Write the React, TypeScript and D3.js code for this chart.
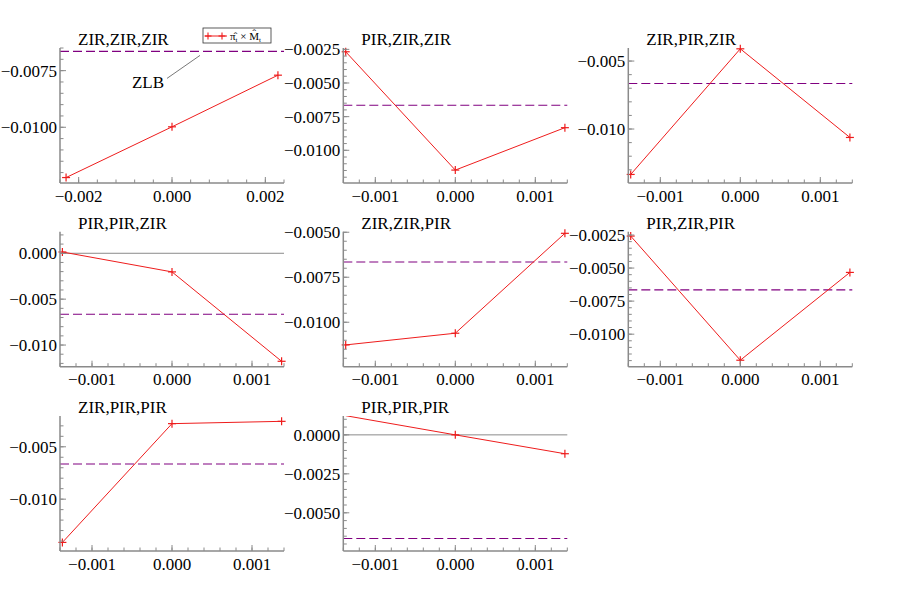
import React from "react";
import * as d3 from "d3";

// ---- data ----
const titles = [
  "ZIR,ZIR,ZIR",
  "PIR,ZIR,ZIR",
  "ZIR,PIR,ZIR",
  "PIR,PIR,ZIR",
  "ZIR,ZIR,PIR",
  "PIR,ZIR,PIR",
  "ZIR,PIR,PIR",
  "PIR,PIR,PIR",
];
const shockWide = [-0.00227, 0, 0.00227];
const shockNarrow = [-0.00137, 0, 0.00137];
const responses = [
  [-0.01222, -0.00998, -0.0077],
  [-0.00268, -0.01147, -0.00832],
  [-0.01334, -0.0041, -0.01062],
  [0.00014, -0.00203, -0.01177],
  [-0.01126, -0.01061, -0.00506],
  [-0.00258, -0.01197, -0.00533],
  [-0.01413, -0.00279, -0.00257],
  [0.00123, 0.0, -0.00121],
];
const yDomains = [
  [-0.01246, -0.0065],
  [-0.01243, -0.0024],
  [-0.01397, -0.00404],
  [-0.01236, 0.00235],
  [-0.01247, -0.00497],
  [-0.01246, -0.00225],
  [-0.01495, -0.00206],
  [-0.00745, 0.00121],
];
const yTickSteps = [0.0025, 0.0025, 0.005, 0.005, 0.0025, 0.0025, 0.005, 0.0025];
const yTickDecimals = [4, 4, 3, 3, 4, 4, 3, 4];
const xDomainWide = [-0.0024, 0.0024];
const xDomainNarrow = [-0.0014, 0.0014];
const xTickStepWide = 0.002;
const xTickStepNarrow = 0.001;
const ZLB = -0.00665;
const zlbLabel = "ZLB";
const zlbAnchorX = 0.0006;

// ---- layout / style ----
const colX = [60, 343.3, 628.3];
const rowY = [48, 231.7, 416];
const plotW = 224;
const plotH = 135;
const FONT = "Liberation Serif, Tinos, serif";
const FS = 17;
const AXIS = "#8a8a8a";
const RED = "#ee1c1c";
const PURPLE = "#800080";

function ticksFor(dom: number[], step: number) {
  const lo = Math.min(dom[0], dom[1]);
  const hi = Math.max(dom[0], dom[1]);
  const a = Math.ceil(lo / step - 1e-6);
  const b = Math.floor(hi / step + 1e-6);
  return d3.range(a, b + 1).map((k) => k * step);
}

function Panel({ i }: { i: number }) {
  const col = i % 3;
  const row = Math.floor(i / 3);
  const x0 = colX[col];
  const y0 = rowY[row];
  const wide = i === 0;
  const xs = wide ? shockWide : shockNarrow;
  const xDom = wide ? xDomainWide : xDomainNarrow;
  const xStep = wide ? xTickStepWide : xTickStepNarrow;
  const x = d3.scaleLinear().domain(xDom).range([x0, x0 + plotW]);
  const yDom = yDomains[i];
  const y = d3.scaleLinear().domain(yDom).range([y0 + plotH, y0]);
  const ys = responses[i];
  const pts = xs.map((v, k) => [v, ys[k]] as [number, number]);
  const line = d3
    .line<[number, number]>()
    .x((d) => x(d[0]))
    .y((d) => y(d[1]));
  const yStep = yTickSteps[i];
  const yMaj = ticksFor(yDom, yStep);
  const yMin = ticksFor(yDom, yStep / 5);
  const xMaj = ticksFor(xDom, xStep);
  const xMin = ticksFor(xDom, xStep / 5);
  const yFmt = d3.format(`.${yTickDecimals[i]}f`);
  const xFmt = d3.format(".3f");
  const clipId = `clip${i}`;
  const inside = (d: [number, number]) =>
    d[1] >= yDom[0] - 1e-9 && d[1] <= yDom[1] + 1e-9;
  const hasZero = yDom[0] < 0 && yDom[1] > 0;
  const bottom = y0 + plotH;

  return (
    <g>
      <defs>
        <clipPath id={clipId}>
          <rect x={x0} y={y0} width={plotW} height={plotH} />
        </clipPath>
      </defs>
      <text x={x0 + 18} y={y0 - 3} fontSize={FS} style={{ fontFamily: FONT }} fill="#000">
        {titles[i]}
      </text>
      {hasZero && (
        <line x1={x0} x2={x0 + plotW} y1={y(0)} y2={y(0)} stroke={AXIS} strokeWidth={1} />
      )}
      <line
        x1={x0}
        x2={x0 + plotW}
        y1={y(ZLB)}
        y2={y(ZLB)}
        stroke={PURPLE}
        strokeWidth={1.1}
        strokeDasharray="9,4"
      />
      <path d={line(pts) || ""} fill="none" stroke={RED} strokeWidth={1} clipPath={`url(#${clipId})`} />
      {pts.filter(inside).map((d, k) => (
        <g key={k} stroke={RED} strokeWidth={1.2}>
          <line x1={x(d[0]) - 4} x2={x(d[0]) + 4} y1={y(d[1])} y2={y(d[1])} />
          <line x1={x(d[0])} x2={x(d[0])} y1={y(d[1]) - 4} y2={y(d[1]) + 4} />
        </g>
      ))}
      <line x1={x0} x2={x0} y1={y0} y2={bottom} stroke={AXIS} strokeWidth={1.5} />
      <line x1={x0} x2={x0 + plotW} y1={bottom} y2={bottom} stroke={AXIS} strokeWidth={1.5} />
      {yMin.map((t, k) => (
        <line key={"ym" + k} x1={x0} x2={x0 + 3.5} y1={y(t)} y2={y(t)} stroke={AXIS} strokeWidth={1} />
      ))}
      {yMaj.map((t, k) => (
        <g key={"yM" + k}>
          <line x1={x0} x2={x0 + 6} y1={y(t)} y2={y(t)} stroke={AXIS} strokeWidth={1} />
          <text
            x={x0 - 3}
            y={y(t)}
            dy="0.35em"
            textAnchor="end"
            fontSize={FS}
            style={{ fontFamily: FONT }}
            fill="#000"
          >
            {yFmt(Math.abs(t) < 1e-12 ? 0 : t)}
          </text>
        </g>
      ))}
      {xMin.map((t, k) => (
        <line key={"xm" + k} x1={x(t)} x2={x(t)} y1={bottom} y2={bottom - 3.5} stroke={AXIS} strokeWidth={1} />
      ))}
      {xMaj.map((t, k) => (
        <g key={"xM" + k}>
          <line x1={x(t)} x2={x(t)} y1={bottom} y2={bottom - 6} stroke={AXIS} strokeWidth={1} />
          <text
            x={x(t)}
            y={bottom + 18.5}
            textAnchor="middle"
            fontSize={FS}
            style={{ fontFamily: FONT }}
            fill="#000"
          >
            {xFmt(Math.abs(t) < 1e-12 ? 0 : t)}
          </text>
        </g>
      ))}
      {i === 0 && (
        <g>
          <line
            x1={x(zlbAnchorX) - 33}
            y1={y(ZLB) + 27}
            x2={x(zlbAnchorX)}
            y2={y(ZLB) + 4}
            stroke="#555"
            strokeWidth={0.8}
          />
          <text
            x={x(zlbAnchorX) - 36}
            y={y(ZLB) + 37}
            textAnchor="end"
            fontSize={FS}
            style={{ fontFamily: FONT }}
            fill="#000"
          >
            {zlbLabel}
          </text>
          <rect x={203} y={28} width={68} height={15} fill="#fff" stroke="#333" strokeWidth={0.8} />
          <line x1={205} x2={227} y1={36} y2={36} stroke={RED} strokeWidth={1} />
          {[208, 222].map((cx, k) => (
            <g key={k} stroke={RED} strokeWidth={1.1}>
              <line x1={cx - 3.5} x2={cx + 3.5} y1={36} y2={36} />
              <line x1={cx} x2={cx} y1={32.5} y2={39.5} />
            </g>
          ))}
          <text x={230} y={39.5} fontSize={11} style={{ fontFamily: FONT }} fill="#000">
            {"π\u0302"}
            <tspan fontSize={7} dy={2}>t</tspan>
            <tspan dy={-2}>{" × M\u0302"}</tspan>
            <tspan fontSize={7} dy={2}>t</tspan>
          </text>
        </g>
      )}
    </g>
  );
}

export default function App() {
  return (
    <svg
      width={900}
      height={600}
      style={{ position: "absolute", left: 0, top: 0, background: "#fff" }}
    >
      <rect width={900} height={600} fill="#fff" />
      {titles.map((_, i) => (
        <Panel key={i} i={i} />
      ))}
    </svg>
  );
}
